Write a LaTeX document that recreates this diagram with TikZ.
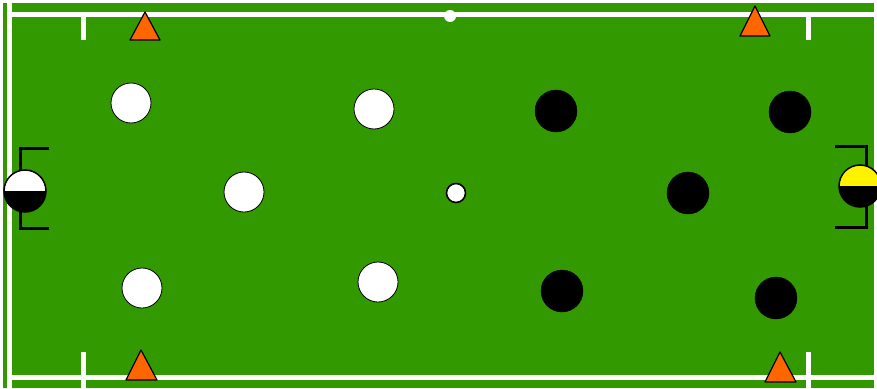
\documentclass[tikz,border=0pt]{standalone}
\definecolor{pitch}{RGB}{51,153,0}
\definecolor{conecol}{RGB}{255,102,0}
\begin{document}
\begin{tikzpicture}[x=1pt,y=-1pt,
  pitchline/.style={white,line width=5pt},
  cone/.style={fill=conecol,draw=black,line width=1.2pt,line join=round},
  wplayer/.style={circle,fill=white,draw=black,line width=0.8pt,minimum size=40pt,inner sep=0pt},
  bplayer/.style={circle,fill=black,draw=black,minimum size=42pt,inner sep=0pt},
  ballst/.style={circle,fill=white,draw=black,line width=1.6pt,minimum size=19pt,inner sep=0pt},
  goalst/.style={black,line width=3pt}]
\useasboundingbox (0,0) rectangle (877,388);
\fill[white] (0,0) rectangle (877,388);
\fill[pitch] (3,3) rectangle (874,388);
% lines
\draw[pitchline] (9,0) -- (9,388);
\draw[pitchline] (9,14) -- (874,14);
\draw[pitchline] (9,377) -- (874,377);
\draw[pitchline] (83,14) -- (83,40);
\draw[pitchline] (808,14) -- (808,40);
\draw[pitchline] (83,352) -- (83,388);
\draw[pitchline] (808,352) -- (808,388);
\node[circle,fill=white,minimum size=12pt,inner sep=0pt] (mid) at (450,16) {};
% cones
\draw[cone] (145,12) -- (160,40) -- (130,40) -- cycle;
\draw[cone] (755,6) -- (770,36) -- (740,36) -- cycle;
\draw[cone] (141,350) -- (157,380) -- (126,380) -- cycle;
\draw[cone] (780,352) -- (796,382) -- (765,382) -- cycle;
% goals
\draw[goalst] (49,148) -- (20,148) -- (20,228) -- (49,228);
\draw[goalst] (835,146) -- (866,146) -- (866,227) -- (835,227);
\fill[white] (4,191) arc (180:360:21) -- cycle;
\fill[black] (4,191) arc (180:0:21) -- cycle;
\draw[black,line width=1.5pt] (25,191) circle (21);
\fill[yellow] (839,186) arc (180:360:21) -- cycle;
\fill[black] (839,186) arc (180:0:21) -- cycle;
\draw[black,line width=1.5pt] (860,186) circle (21);
\coordinate (gl) at (25,191);
\coordinate (gr) at (860,186);
% players
\node[wplayer] (w1) at (131,103) {};
\node[wplayer] (w2) at (374,109) {};
\node[wplayer] (w3) at (244,192) {};
\node[wplayer] (w4) at (142,288) {};
\node[wplayer] (w5) at (378,282) {};
\node[bplayer] (b1) at (556,111) {};
\node[bplayer] (b2) at (790,112) {};
\node[bplayer] (b3) at (688,193) {};
\node[bplayer] (b4) at (562,291) {};
\node[bplayer] (b5) at (776,298) {};
\node[ballst] (ball) at (456,193) {};
\end{tikzpicture}
\end{document}
